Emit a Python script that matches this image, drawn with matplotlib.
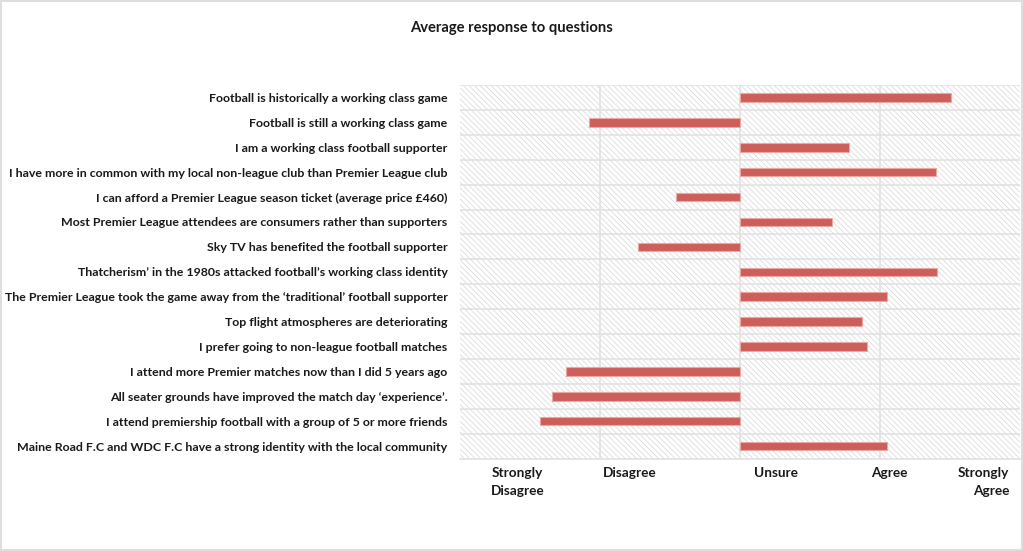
import matplotlib
matplotlib.use("Agg")
import matplotlib.pyplot as plt
from matplotlib.patches import Rectangle

# --------------------------------------------------------------------------- #
# Data (1 = Strongly Disagree ... 3 = Unsure ... 5 = Strongly Agree)
# --------------------------------------------------------------------------- #
questions = [
    "Football is historically a working class game",
    "Football is still a working class game",
    "I am a working class football supporter",
    "I have more in common with my local non-league club than Premier League club",
    "I can afford a Premier League season ticket (average price £460)",
    "Most Premier League attendees are consumers rather than supporters",
    "Sky TV has benefited the football supporter",
    "Thatcherism’ in the 1980s attacked football’s working class identity",
    "The Premier League took the game away from the ‘traditional’ football supporter",
    "Top flight atmospheres are deteriorating",
    "I prefer going to non-league football matches",
    "I attend more Premier matches now than I did 5 years ago",
    "All seater grounds have improved the match day ‘experience’.",
    "I attend premiership football with a group of 5 or more friends",
    "Maine Road F.C and WDC F.C have a strong identity with the local community",
]
avg_response = [4.51, 1.92, 3.78, 4.40, 2.54, 3.66, 2.27, 4.41,
                4.05, 3.87, 3.91, 1.76, 1.66, 1.57, 4.05]

scale_labels = ["Strongly\nDisagree", "Disagree", "Unsure", "Agree", "Strongly\nAgree"]
scale_label_pos = [1.41, 2.21, 3.26, 4.07, 4.74]
neutral = 3.0

BAR = "#cd5f5a"
BAR_EDGE = "#eaa7a3"
GRID = "#e2e2e2"
HATCH = "#d6d6d6"

plt.rcParams["font.family"] = ["Lato", "DejaVu Sans"]
plt.rcParams["hatch.linewidth"] = 0.5

fig = plt.figure(figsize=(10.23, 5.51), dpi=100)
fig.patch.set_edgecolor("#dedede")
fig.patch.set_linewidth(1.5)
ax = fig.add_axes([0.4497, 0.1677, 0.5473, 0.678])

n = len(questions)
ypos = list(range(n))
ax.set_xlim(1, 5)
ax.set_ylim(n - 0.5, -0.5)

# hatched plot-area background
ax.add_patch(Rectangle((0, 0), 1, 1, transform=ax.transAxes, facecolor="white",
                       edgecolor=HATCH, linewidth=0, hatch="\\\\\\\\\\\\",
                       zorder=0))

# grid: vertical at scale points, horizontal between rows
for xv in [2, 3, 4]:
    ax.axvline(xv, color=GRID, lw=1.2, zorder=1)
for i in range(-1, n - 1):
    ax.axhline(i + 0.5, color=GRID, lw=1.2, zorder=1)

widths = [v - neutral for v in avg_response]
ax.barh(ypos, widths, left=neutral, height=0.34, color=BAR,
        edgecolor=BAR_EDGE, linewidth=0.8, zorder=3)

ax.set_yticks(ypos)
ax.set_yticklabels(questions, fontsize=8.9, fontweight="bold", color="#1a1a1a")
ax.set_xticks(scale_label_pos)
ax.set_xticklabels(scale_labels, fontsize=9.8, fontweight="bold", color="#1a1a1a",
                   va="top", linespacing=1.6)
ax.tick_params(axis="both", length=0)
ax.tick_params(axis="x", pad=6)
ax.tick_params(axis="y", pad=9)
ax.get_xticklabels()[-1].set_multialignment("right")

for s in ["top", "right", "left"]:
    ax.spines[s].set_visible(False)
ax.spines["bottom"].set_color(GRID)
ax.spines["bottom"].set_linewidth(1.2)

fig.text(0.5, 0.949, "Average response to questions", ha="center", va="center",
         fontsize=10.6, fontweight="bold", color="#1a1a1a")

fig.savefig("out.png", dpi=100)
